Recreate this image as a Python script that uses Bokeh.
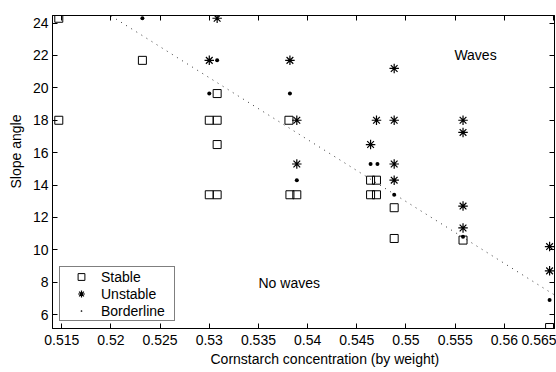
from bokeh.plotting import figure
from bokeh.models import (Range1d, FixedTicker, LinearAxis, Label, Legend, Title,
                          CustomLabelingPolicy)
from bokeh.embed import file_html
from bokeh.resources import INLINE

# ---- data ----
stable_x = [0.5147, 0.5147, 0.5232, 0.5300, 0.5308, 0.5308, 0.5308, 0.5300, 0.5308,
            0.5381, 0.5382, 0.5389, 0.5464, 0.5470, 0.5464, 0.5470, 0.5488, 0.5488,
            0.5558, 0.5646]
stable_y = [24.3, 18.0, 21.7, 18.0, 18.0, 19.65, 16.5, 13.4, 13.4,
            18.0, 13.4, 13.4, 14.3, 14.3, 13.4, 13.4, 12.6, 10.7,
            10.6, 5.2]

unstable_x = [0.5308, 0.5300, 0.5382, 0.5389, 0.5389, 0.5488, 0.5470, 0.5488, 0.5464,
              0.5488, 0.5488, 0.5558, 0.5558, 0.5558, 0.5558, 0.5646, 0.5646]
unstable_y = [24.3, 21.7, 21.7, 18.0, 15.3, 21.2, 18.0, 18.0, 16.5,
              15.3, 14.3, 18.0, 17.25, 12.7, 11.35, 10.2, 8.7]

border_x = [0.5232, 0.5308, 0.5300, 0.5382, 0.5389, 0.5464, 0.5471, 0.5488, 0.5558, 0.5646]
border_y = [24.3, 21.7, 19.65, 19.65, 14.3, 15.3, 15.3, 13.4, 10.8, 6.9]

trend_x = [0.5200, 0.5650]
trend_y = [24.45, 7.25]

x_ticks = [0.515, 0.52, 0.525, 0.53, 0.535, 0.54, 0.545, 0.55, 0.555, 0.56, 0.565]
x_tick_labels = ["0.515", "0.52", "0.525", "0.53", "0.535", "0.54", "0.545", "0.55",
                 "0.555", "0.56", "0.565"]
y_ticks = [6, 8, 10, 12, 14, 16, 18, 20, 22, 24]

x_title = "Cornstarch concentration (by weight)"
y_title = "Slope angle"
region_labels = ["Waves", "No waves"]
legend_labels = ["Stable", "Unstable", "Borderline"]

FONT = "Liberation Sans"
FS = "14px"

p = figure(width=556, height=372, output_backend="svg", toolbar_location=None,
           x_range=Range1d(0.51406, 0.5651), y_range=Range1d(5.14, 24.47),
           min_border_left=52, min_border_right=2, min_border_top=15, min_border_bottom=44)
p.background_fill_color = "white"
p.border_fill_color = "white"
p.outline_line_color = "black"
p.xgrid.visible = False
p.ygrid.visible = False

hide_all = CustomLabelingPolicy(code="for (const i of indices) { indices.unset(i) }\nreturn indices")

def style_axis(ax, show_labels):
    ax.axis_line_color = "black"
    ax.major_tick_line_color = "black"
    ax.major_tick_in = 5
    ax.major_tick_out = 0
    ax.minor_tick_line_color = None
    ax.major_label_text_font = FONT
    ax.major_label_text_color = "black"
    if show_labels:
        ax.major_label_text_font_size = FS
    else:
        ax.major_label_text_font_size = "0px"
        ax.major_label_standoff = 0
        ax.major_label_policy = hide_all

xa = p.xaxis[0]
ya = p.yaxis[0]
xa.ticker = FixedTicker(ticks=x_ticks)
xa.major_label_overrides = {t: s for t, s in zip(x_ticks, x_tick_labels)}
ya.ticker = FixedTicker(ticks=y_ticks)
style_axis(xa, True)
style_axis(ya, True)
xa.major_label_standoff = 6
ya.major_label_standoff = 4

top = LinearAxis(ticker=FixedTicker(ticks=x_ticks))
right = LinearAxis(ticker=FixedTicker(ticks=y_ticks))
style_axis(top, False)
style_axis(right, False)
p.add_layout(top, "above")
p.add_layout(right, "right")

p.line(trend_x, trend_y, line_color="#333333", line_width=1, line_dash="1 5")

r_s = p.scatter(stable_x, stable_y, marker="square", size=8, fill_color=None,
                line_color="black", line_width=1)
r_u = p.scatter(unstable_x, unstable_y, marker="asterisk", size=9.5,
                line_color="black", line_width=1.2)
r_b = p.scatter(border_x, border_y, marker="dot", size=16, line_color="black")

legend = Legend(items=[(legend_labels[0], [r_s]), (legend_labels[1], [r_u]),
                       (legend_labels[2], [r_b])],
                location=(7, 7))
legend.label_text_font = FONT
legend.label_text_font_size = FS
legend.label_text_color = "black"
legend.label_height = 16
legend.glyph_height = 17
legend.glyph_width = 40
legend.label_width = 72
legend.label_standoff = 0
legend.spacing = 0
legend.padding = 1
legend.margin = 0
legend.border_line_color = "black"
legend.border_line_width = 1
legend.background_fill_color = "white"
legend.background_fill_alpha = 1
p.add_layout(legend, "center")

p.add_layout(Label(x=0.55707, y=22.0, text=region_labels[0], text_align="center",
                   text_baseline="middle", text_font=FONT, text_font_size=FS,
                   text_color="black"))
p.add_layout(Label(x=0.53813, y=7.95, text=region_labels[1], text_align="center",
                   text_baseline="middle", text_font=FONT, text_font_size=FS,
                   text_color="black"))

xt = Title(text=x_title, align="left", offset=158, vertical_align="middle",
           text_font=FONT, text_font_size=FS, text_font_style="normal", standoff=4,
           text_color="black")
p.add_layout(xt, "below")
yt = Title(text=y_title, align="left", offset=140, vertical_align="middle",
           text_font=FONT, text_font_size=FS, text_font_style="normal", standoff=10,
           text_color="black")
p.add_layout(yt, "left")

open("out.html", "w").write(file_html(p, INLINE))
